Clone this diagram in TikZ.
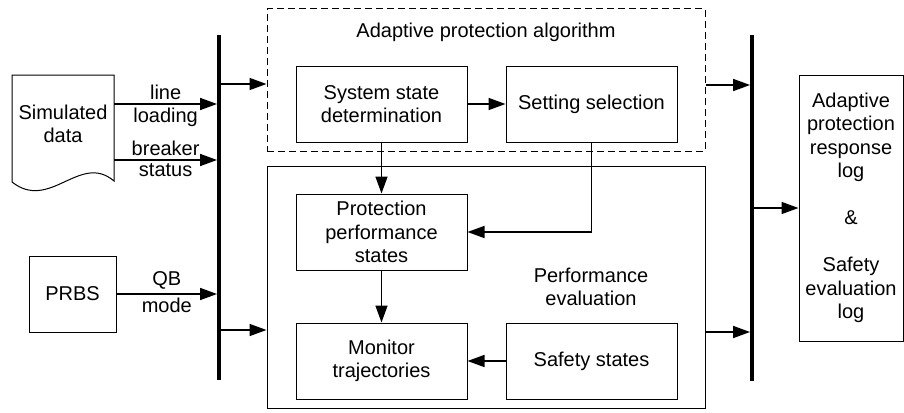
\documentclass[tikz,border=0pt]{standalone}
\usepackage{fontspec}
\setmainfont{Liberation Sans}
\usetikzlibrary{
	arrows.meta,
	positioning
}

\begin{document}
\begin{tikzpicture}[
			x=1pt, y=-1pt,
			every node/.style={font=\fontsize{20}{23.5}\selectfont},
			block/.style={
				rectangle, draw, line width=1pt,
				minimum width=171pt, minimum height=76pt,
				align=center
			},
			group/.style={
				rectangle, draw, line width=1pt,
				minimum width=438pt
			},
			bus/.style={
				rectangle, fill=black, inner sep=0pt,
				minimum width=3.5pt, minimum height=345pt
			},
			lbl/.style={inner sep=3pt},
			arrow/.style={-{Triangle[length=17pt,width=12pt]}, line width=1.6pt}
			]
			\useasboundingbox (0,0) rectangle (904,412);
			
			% ---------------- buses ----------------
			\node[bus] (lbar) at (219,207.5) {};
			\node[bus] (rbar) at (752,208) {};
			
			% ---------------- inputs ----------------
			\node[align=center, text width=102pt, inner sep=0pt] (simdata) at (63,124) {Simulated\\data};
			\draw[line width=1pt] (12,182) -- (12,75) -- (114,75) -- (114,181)
				.. controls (80,152) and (50,212) .. (12,182);
			
			\node[block, minimum width=87pt] (prbs) at (72.5,294) {PRBS};
			
			\coordinate (loadout) at ([yshift=20pt]simdata.east);
			\coordinate (brkout) at ([yshift=-36pt]simdata.east);
			\draw[arrow] (loadout) -- (loadout -| lbar.west)
				node[lbl, midway, above=1pt] {line} node[lbl, midway, below] {loading};
			\draw[arrow] (brkout) -- (brkout -| lbar.west)
				node[lbl, midway, above=1pt] {breaker} node[lbl, midway, below] {status};
			\draw[arrow] (prbs) -- (prbs -| lbar.west)
				node[lbl, midway, above=1pt] {QB} node[lbl, midway, below] {mode};
			
			% ---------------- adaptive protection algorithm ----------------
			\node[group, dashed, dash pattern=on 7pt off 4pt, minimum height=142pt] (algo) at (486,80) {};
			\node (algotitle) at (486,32) {Adaptive protection algorithm};
			
			\node[block] (ssd) at (381.5,104) {System state\\determination};
			\node[block, right=38pt of ssd] (setsel) {Setting selection};
			\draw[arrow] (ssd) -- (setsel);
			
			% ---------------- performance evaluation ----------------
			\node[group, minimum height=242pt] (perf) at (486,287) {};
			\node[align=center] (perftitle) at (591,287) {Performance\\evaluation};
			
			\node[block, below=51pt of ssd] (pps) {Protection\\performance\\states};
			\draw[arrow] (ssd) -- (pps);
			\draw[arrow] (setsel.south) |- (pps.east);
			
			\node[block, below=52pt of pps] (monitor) {Monitor\\trajectories};
			\draw[arrow] (pps) -- (monitor);
			
			\node[block, right=38pt of monitor] (safety) {Safety states};
			\draw[arrow] (safety) -- (monitor);
			
			% ---------------- bus connections ----------------
			\coordinate (algoin) at ([yshift=-4pt]algo.west);
			\coordinate (perfin) at ([yshift=-43pt]perf.west);
			\coordinate (algoout) at ([yshift=-5pt]algo.east);
			\coordinate (perfout) at ([yshift=-45pt]perf.east);
			\draw[arrow] (lbar.east |- algoin) -- (algoin);
			\draw[arrow] (lbar.east |- perfin) -- (perfin);
			\draw[arrow] (algoout) -- (algoout -| rbar.west);
			\draw[arrow] (perfout) -- (perfout -| rbar.west);
			
			% ---------------- output log ----------------
			\node[rectangle, draw, line width=1pt, minimum width=104pt, minimum height=266pt,
				align=center, inner sep=0pt] (outlog) at (851,208)
				{Adaptive\\protection\\response\\log\\[23.5pt]\&\\[23.5pt]Safety\\evaluation\\log};
			\draw[arrow] (rbar.east |- outlog.west) -- (outlog.west);
		\end{tikzpicture}
\end{document}
